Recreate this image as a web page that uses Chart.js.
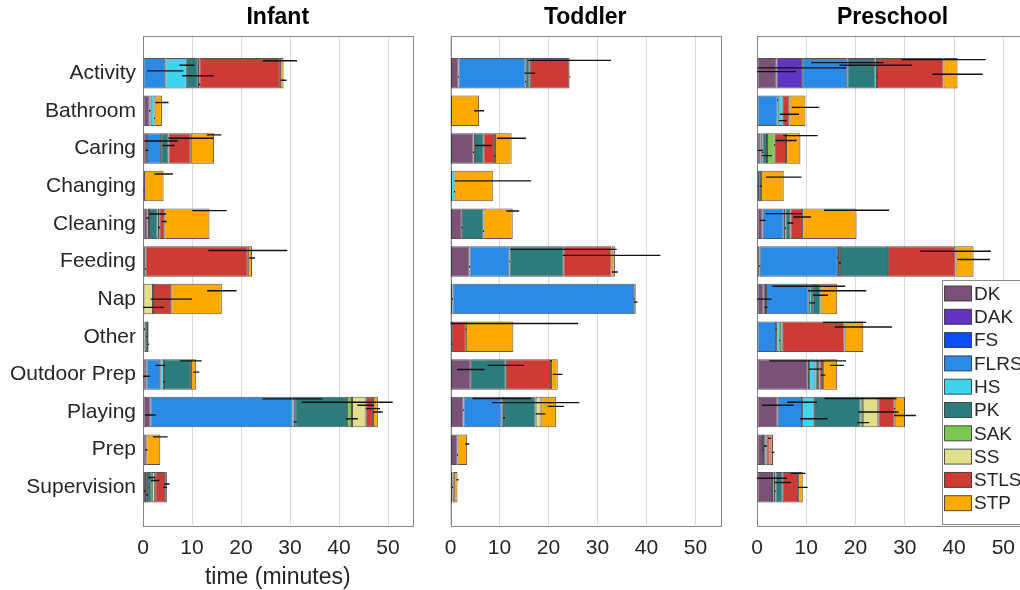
<!DOCTYPE html>
<html>
<head>
<meta charset="utf-8">
<script src="https://cdn.jsdelivr.net/npm/chart.js@4.4.1/dist/chart.umd.min.js"></script>
<style>
  html, body { margin: 0; padding: 0; background: #fff; width: 1020px; height: 590px; overflow: hidden; }
  .panel { position: absolute; top: 0; }
</style>
</head>
<body>
<div class="panel" style="left:0px"><canvas id="infant" width="420" height="590"></canvas></div>
<div class="panel" style="left:430px"><canvas id="toddler" width="300" height="590"></canvas></div>
<div class="panel" style="left:740px"><canvas id="preschool" width="300" height="590"></canvas></div>
<script>
// Activities (rows) and staff roles (stacked segments)
const categories = ['Activity', 'Bathroom', 'Caring', 'Changing', 'Cleaning', 'Feeding',
  'Nap', 'Other', 'Outdoor Prep', 'Playing', 'Prep', 'Supervision'];
const roles = ['DK', 'DAK', 'FS', 'FLRS', 'HS', 'PK', 'SAK', 'SS', 'STLS', 'STP'];
const roleColors = ['#7a5278', '#6234c2', '#0b4df6', '#2b8be4', '#3fd3ee', '#2b7c7a',
  '#7dc652', '#e2df8a', '#cd3b35', '#fda900'];
const xTicks = [0, 10, 20, 30, 40, 50];
const panelTitles = ['Infant', 'Toddler', 'Preschool'];

// Mean minutes per role (one row per role, columns follow `categories`)
const infantMinutes = [
  [0, 1.36, 0.8, 0.2, 0.95, 0.54, 0, 0.3, 0.68, 1.5, 0.68, 0.4],      // DK
  [0, 0, 0, 0, 0, 0, 0, 0, 0, 0, 0, 0],                                // DAK
  [0, 0, 0, 0, 0, 0, 0, 0, 0, 0, 0, 0],                                // FS
  [4.55, 0.2, 2.9, 0, 0.27, 0, 0, 0, 2.85, 29.0, 0, 0.4],              // FLRS
  [4.4, 0.8, 0, 0, 0, 0, 0, 0, 0.75, 0.55, 0, 0],                      // HS
  [2.24, 0, 1.5, 0, 1.76, 0, 0, 0.5, 5.5, 10.6, 0, 1.0],               // PK
  [0.3, 0, 0, 0, 0.34, 0, 0, 0, 0, 1.0, 0, 0],                         // SAK
  [0, 0, 0, 0, 0, 0, 2.04, 0, 0, 2.78, 0, 0.68],                       // SS
  [16.45, 0, 4.55, 0, 1.02, 20.85, 3.73, 0, 0, 1.5, 0, 2.04],          // STLS
  [0.75, 1.5, 4.75, 4.0, 9.23, 0.85, 10.31, 0.35, 1.08, 1.0, 2.85, 0.35] // STP
];
const toddlerMinutes = [
  [1.63, 0, 4.69, 0, 2.31, 3.87, 0.4, 0.27, 4.14, 2.65, 1.43, 0.4],    // DK
  [0, 0, 0.3, 0, 0, 0, 0, 0, 0, 0, 0, 0.27],                           // DAK
  [0, 0, 0, 0, 0, 0, 0, 0, 0, 0, 0, 0],                                // FS
  [13.72, 0, 0, 0, 0, 8.15, 37.1, 0, 0, 7.8, 0, 0],                    // FLRS
  [0, 0, 0, 0.82, 0, 0, 0, 0, 0, 0.48, 0, 0],                          // HS
  [0.82, 0, 1.7, 0, 4.42, 11.0, 0.3, 0, 7.14, 6.45, 0, 0],             // PK
  [0, 0, 0, 0, 0, 0, 0, 0, 0, 0, 0, 0],                                // SAK
  [0, 0, 0, 0, 0, 0, 0, 0, 0, 1.0, 0, 0],                              // SS
  [8.08, 0, 2.38, 0, 0, 9.85, 0, 2.86, 9.24, 0, 0, 0],                 // STLS
  [0.1, 5.84, 3.4, 7.81, 5.97, 0.68, 0, 9.71, 1.36, 3.13, 1.97, 0.76]  // STP
];
const preschoolMinutes = [
  [3.93, 0, 0.68, 0.2, 1.15, 0.54, 1.36, 0, 10.3, 4.2, 1.22, 3.05],    // DK
  [5.23, 0, 0, 0, 0, 0, 0.47, 0, 0, 0, 0, 0],                          // DAK
  [0, 0, 0, 0, 0, 0, 0, 0, 0, 0, 0, 0],                                // FS
  [9.16, 4.2, 0.47, 0.6, 4.28, 15.88, 8.68, 3.87, 0.27, 4.95, 0.47, 0.34], // FLRS
  [0, 1.02, 0, 0, 0.34, 0.41, 0.68, 0.75, 1.29, 2.37, 0.2, 0.34],      // HS
  [5.76, 0, 0.88, 0, 1.0, 9.77, 1.7, 0, 0.54, 9.5, 0, 1.49],           // PK
  [0.27, 0, 1.56, 0, 0, 0, 0, 0.61, 0.27, 0.54, 0, 0],                 // SAK
  [0, 0, 0, 0, 0, 0, 0, 0, 0, 3.06, 0, 0],                             // SS
  [13.5, 1.36, 2.3, 0, 2.38, 13.7, 0, 12.55, 0.75, 3.32, 0.68, 3.12],  // STLS
  [2.85, 3.26, 2.92, 4.62, 11.06, 3.66, 3.39, 3.8, 2.85, 2.1, 0.68, 0.95] // STP
];

// Error (half-width, minutes) at the right end of each segment
const infantSpread = [
  [0, 0.15, 0.3, 0.1, 0.3, 0.1, 0, 0.1, 0.68, 1.1, 0.2, 0.2],
  [0, 0, 0, 0, 0, 0, 0, 0, 0, 0, 0, 0],
  [0, 0, 0, 0, 0, 0, 0, 0, 0, 0, 0, 0],
  [3.7, 0, 3.4, 0, 0, 0, 0, 0, 1.0, 6.1, 0, 0.2],
  [1.5, 0.1, 0, 0, 0, 0, 0, 0, 0.2, 0.3, 0, 0],
  [3.2, 0, 1.2, 0, 1.7, 0, 0, 0.1, 2.2, 9.3, 0, 0.7],
  [0.2, 0, 0, 0, 0.2, 0, 0, 0, 0, 1.2, 0, 0],
  [0, 0, 0, 0, 0, 0, 2.3, 0, 0, 1.7, 0, 0.85],
  [3.5, 0, 4.6, 0, 0.5, 8.05, 4.2, 0, 0, 1.45, 0, 0.4],
  [0.6, 1.35, 1.5, 1.9, 3.5, 0.6, 3.0, 0.1, 0.65, 1.0, 1.5, 0.55]
];
const toddlerSpread = [
  [0.1, 0, 0.1, 0, 0.1, 0.1, 0.1, 0.1, 2.8, 0.1, 0.1, 0.1],
  [0, 0, 0, 0, 0, 0, 0, 0, 0, 0, 0, 0],
  [0, 0, 0, 0, 0, 0, 0, 0, 0, 0, 0, 0],
  [0.1, 0, 0, 0, 0, 0.1, 0.1, 0, 0, 5.95, 0, 0],
  [0, 0, 0, 0.1, 0, 0, 0, 0, 0, 0.2, 0, 0],
  [1.1, 0, 1.7, 0, 0.1, 10.9, 0.35, 0, 3.7, 8.9, 0, 0],
  [0, 0, 0, 0, 0, 0, 0, 0, 0, 0, 0, 0],
  [0, 0, 0, 0, 0, 0, 0, 0, 0, 1.0, 0, 0],
  [8.5, 0, 0.1, 0, 0, 9.95, 0, 0.1, 0.2, 0, 0, 0],
  [0.1, 1.0, 2.95, 7.8, 1.3, 0.6, 0, 13.2, 1.0, 1.7, 0.4, 0.2]
];
const preschoolSpread = [
  [3.95, 0, 0.5, 0.1, 0.6, 0.1, 1.63, 0, 7.8, 3.2, 0.1, 3.05],
  [9.0, 0, 0, 0, 0, 0, 0.3, 0, 0, 0, 0, 0],
  [0, 0, 0, 0, 0, 0, 0, 0, 0, 0, 0, 0],
  [7.3, 0.1, 0.1, 0.2, 3.7, 0.1, 7.4, 0.1, 0, 3.0, 0.3, 0],
  [0, 0.8, 0, 0, 0.1, 0.2, 0.6, 0.1, 1.35, 2.8, 0, 0.1],
  [7.35, 0, 1.0, 0, 0.6, 0, 1.5, 0, 0, 7.3, 0, 1.7],
  [0.1, 0, 0.1, 0, 0, 0, 0, 0, 0, 1.2, 0, 0],
  [0, 0, 0, 0, 0, 0, 0, 0, 0, 4.1, 0, 0],
  [8.55, 1.95, 2.15, 0, 1.8, 7.2, 0, 4.4, 0.5, 0.1, 0.3, 1.5],
  [5.1, 2.8, 3.5, 3.6, 6.6, 3.3, 5.9, 5.8, 1.35, 2.2, 0.3, 1.0]
];

// Vertical slot of each error bar inside its row (fraction of a row, + is downward)
const infantSlot = [
  [0, 0, 0.05, 0.1, -0.15, 0.2, 0, -0.2, 0.05, 0.08, 0, 0.1],
  [0, 0, 0, 0, 0, 0, 0, 0, 0, 0, 0, 0],
  [0, 0, 0, 0, 0, 0, 0, 0, 0, 0, 0, 0],
  [-0.06, 0, -0.2, 0, 0, 0, 0, 0, -0.24, -0.35, 0, 0.2],
  [-0.21, 0.2, 0, 0, 0, 0, 0, 0, 0.2, 0.26, 0, 0],
  [0.07, 0, -0.08, 0, -0.26, 0, 0, 0, -0.36, -0.26, 0, -0.26],
  [0.3, 0, 0, 0, 0.1, 0, 0, 0, 0, 0.18, 0, 0],
  [0, 0, 0, 0, 0, 0, 0.22, 0, 0, -0.18, 0, -0.18],
  [-0.33, 0, -0.27, 0, -0.06, -0.29, 0, 0, 0, -0.09, 0, 0],
  [0.19, -0.22, -0.36, -0.32, -0.35, -0.09, -0.22, 0.2, -0.06, 0, -0.34, -0.09]
];
const toddlerSlot = [
  [0.1, 0, 0.1, 0, 0.1, 0.14, 0, 0.2, -0.13, -0.05, 0.14, 0],
  [0, 0, 0, 0, 0, 0, 0, 0, 0, 0, 0, 0],
  [0, 0, 0, 0, 0, 0, 0, 0, 0, 0, 0, 0],
  [0.23, 0, 0, 0, 0, 0, 0, 0, 0, -0.36, 0, 0],
  [0, 0, 0, 0.15, 0, 0, 0, 0, 0, 0.15, 0, 0],
  [0, 0, -0.08, 0, 0.2, -0.32, 0.08, 0, -0.24, -0.25, 0, 0],
  [0, 0, 0, 0, 0, 0, 0, 0, 0, 0, 0, 0],
  [0, 0, 0, 0, 0, 0, 0, 0, 0, 0.05, 0, 0],
  [-0.34, 0, 0.2, 0, 0, -0.16, 0, -0.2, -0.36, 0, 0, 0],
  [0.1, 0, -0.27, -0.14, -0.34, 0.28, 0, -0.35, 0, -0.15, -0.15, -0.2]
];
const preschoolSlot = [
  [-0.04, 0, 0.05, 0, -0.09, 0.12, 0, 0, -0.36, -0.18, 0, -0.24],
  [-0.14, 0, 0, 0, 0, 0, 0.22, 0, 0, 0, 0, 0],
  [0, 0, 0, 0, 0, 0, 0, 0, 0, 0, 0, 0],
  [-0.28, -0.28, 0.1, 0, -0.27, -0.1, -0.34, -0.2, 0, -0.26, -0.1, 0],
  [0, 0.26, 0, 0, 0.12, 0.04, 0.1, 0.1, -0.14, 0.18, 0, 0.1],
  [-0.21, 0, 0.19, 0, -0.02, 0, -0.1, 0, 0, -0.36, 0, -0.13],
  [0.1, 0, -0.1, 0, 0, 0, 0, 0, 0, 0.28, 0, 0],
  [0, 0, 0, 0, 0, 0, 0, 0, 0, 0, 0, 0],
  [-0.36, 0.09, -0.21, 0, -0.18, -0.27, 0, -0.38, 0.02, -0.09, -0.3, -0.37],
  [0.03, -0.09, -0.34, -0.24, -0.36, -0.05, -0.22, -0.26, -0.24, 0.09, 0.07, 0]
];

const FONT = "'Liberation Sans', Arial, Helvetica, sans-serif";
const TEXT = '#262626';

function makePanel(id, title, minutes, spread, slot, cfg) {
  // one empty slot above and below the rows, like a 0..13 axis
  const rowLabels = [''].concat(categories, ['']);

  const datasets = roles.map((r, i) => ({
    label: r,
    data: [null].concat(minutes[i].map(v => (v > 0 ? v : null)), [null]),
    backgroundColor: roleColors[i],
    borderColor: 'rgba(40,40,40,0.8)',
    borderWidth: 1,
    borderSkipped: false,
    categoryPercentage: 1,
    barPercentage: 0.81
  }));

  const frame = {
    id: 'frame',
    beforeDatasetsDraw(chart) {
      const a = chart.chartArea, ctx = chart.ctx;
      ctx.save();
      ctx.strokeStyle = '#858585';
      ctx.lineWidth = 1;
      ctx.strokeRect(Math.round(a.left) + 0.5, Math.round(a.top) + 0.5,
        Math.round(a.right - a.left), Math.round(a.bottom - a.top));
      ctx.restore();
    },
    afterDraw(chart) {
      const a = chart.chartArea, ctx = chart.ctx;
      ctx.save();
      ctx.fillStyle = '#000';
      ctx.font = 'bold 23px ' + FONT;
      ctx.textAlign = 'center';
      ctx.textBaseline = 'middle';
      ctx.fillText(title, (a.left + a.right) / 2, 18);
      ctx.restore();
    }
  };

  const errorBars = {
    id: 'errorBars',
    afterDatasetsDraw(chart) {
      const {ctx, chartArea: a, scales: {x, y}} = chart;
      const step = y.getPixelForValue(1) - y.getPixelForValue(0);
      ctx.save();
      ctx.beginPath();
      ctx.rect(a.left, a.top, a.right - a.left, a.bottom - a.top);
      ctx.clip();
      ctx.strokeStyle = '#111';
      ctx.lineWidth = 1.4;
      categories.forEach((c, j) => {
        let end = 0;
        roles.forEach((r, i) => {
          end += minutes[i][j];
          const e = spread[i][j];
          if (!e) return;
          const py = y.getPixelForValue(j + 1) + slot[i][j] * step;
          ctx.beginPath();
          ctx.moveTo(x.getPixelForValue(end - e), py);
          ctx.lineTo(x.getPixelForValue(end + e), py);
          ctx.stroke();
        });
      });
      ctx.restore();
    }
  };

  const plugins = [frame, errorBars];

  if (cfg.legend) {
    plugins.push({
      id: 'roleLegend',
      afterDraw(chart) {
        const a = chart.chartArea, ctx = chart.ctx;
        const left = a.left + 185, top = a.top + 244.5, bottom = a.bottom - 1;
        ctx.save();
        ctx.fillStyle = '#fff';
        ctx.fillRect(left, top, 120, bottom - top);
        ctx.strokeStyle = '#8a8a8a';
        ctx.lineWidth = 1;
        ctx.strokeRect(left + 0.5, top + 0.5, 120, bottom - top);
        ctx.font = '19px ' + FONT;
        ctx.textBaseline = 'middle';
        ctx.textAlign = 'left';
        roles.forEach((r, k) => {
          const cy = top + 13.5 + k * 23.3;
          ctx.fillStyle = roleColors[k];
          ctx.fillRect(left + 2.5, cy - 7.5, 27, 15);
          ctx.strokeStyle = 'rgba(40,40,40,0.8)';
          ctx.strokeRect(left + 2.5, cy - 7.5, 27, 15);
          ctx.fillStyle = TEXT;
          ctx.fillText(r, left + 32, cy + 1);
        });
        ctx.restore();
      }
    });
  }

  return new Chart(document.getElementById(id), {
    type: 'bar',
    data: {labels: rowLabels, datasets},
    plugins,
    options: {
      indexAxis: 'y',
      responsive: false,
      animation: false,
      events: [],
      layout: {padding: {left: 0, right: cfg.padRight, top: 35.5, bottom: 0}},
      plugins: {legend: {display: false}, tooltip: {enabled: false}, title: {display: false}},
      scales: {
        x: {
          type: 'linear',
          stacked: true,
          min: 0,
          max: 55,
          afterBuildTicks: s => { s.ticks = xTicks.map(v => ({value: v})); },
          afterFit: s => { s.height = 65; },
          grid: {color: '#dadada', lineWidth: 1, drawTicks: false},
          border: {display: false},
          ticks: {color: TEXT, font: {family: FONT, size: 21}, padding: 11, maxRotation: 0},
          title: {
            display: !!cfg.xTitle,
            text: cfg.xTitle || '',
            color: TEXT,
            font: {family: FONT, size: 23, lineHeight: 1.1},
            padding: {top: 0, bottom: 0}
          }
        },
        y: {
          type: 'category',
          stacked: true,
          offset: false,
          afterFit: s => { s.width = cfg.axisWidth; },
          grid: {display: false, drawTicks: false},
          border: {display: false},
          ticks: {
            display: !!cfg.rowLabels,
            autoSkip: false,
            color: TEXT,
            font: {family: FONT, size: 21},
            padding: 7
          }
        }
      }
    }
  });
}

makePanel('infant', panelTitles[0], infantMinutes, infantSpread, infantSlot,
  {axisWidth: 143, padRight: 7.5, rowLabels: true, xTitle: 'time (minutes)'});
makePanel('toddler', panelTitles[1], toddlerMinutes, toddlerSpread, toddlerSlot,
  {axisWidth: 20.5, padRight: 10});
makePanel('preschool', panelTitles[2], preschoolMinutes, preschoolSpread, preschoolSlot,
  {axisWidth: 17, padRight: 12, legend: true});
</script>
</body>
</html>
